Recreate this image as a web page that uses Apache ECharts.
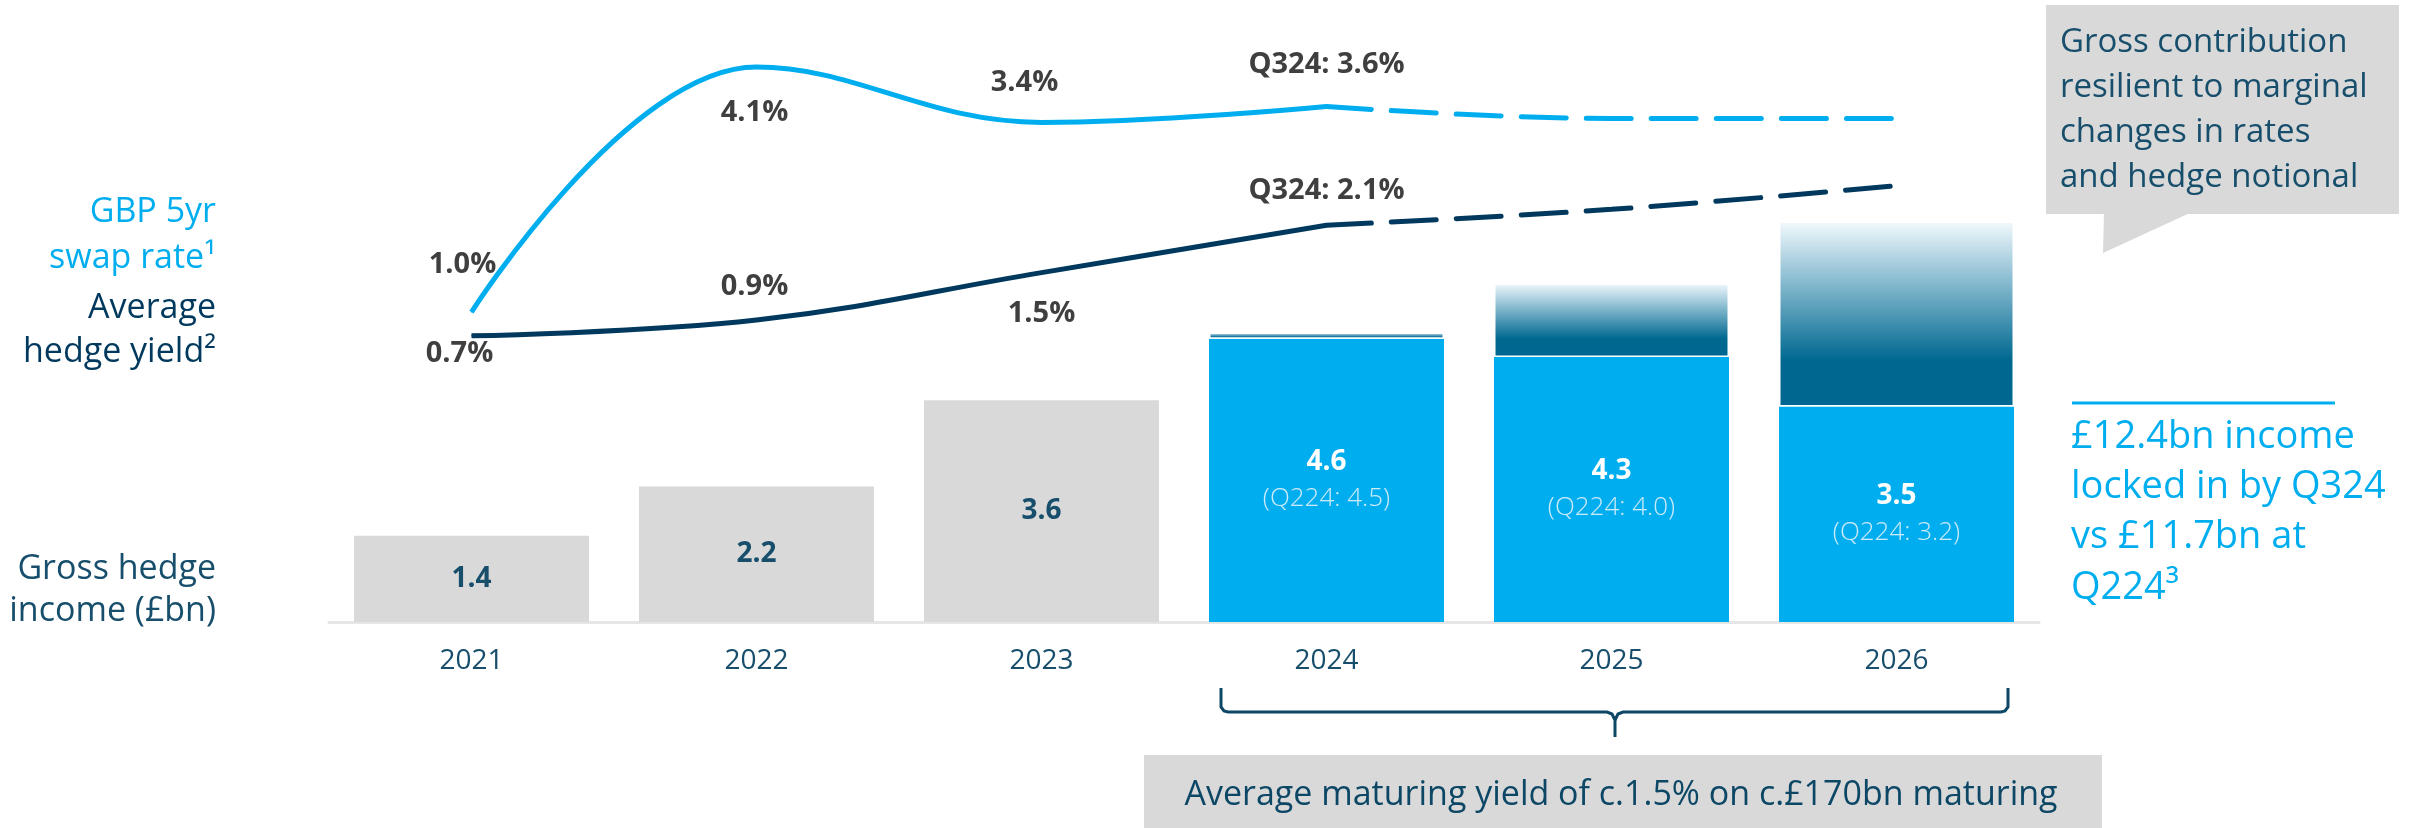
<!DOCTYPE html>
<html lang="en">
<head>
<meta charset="UTF-8">
<title>Gross hedge income</title>
<script src="https://cdn.jsdelivr.net/npm/echarts@6/dist/echarts.min.js"></script>
<style>
    html, body { margin: 0; padding: 0; background: #fff; }
    #chart { width: 2425px; height: 828px; }
</style>
</head>
<body>
<div id="chart"></div>
<script>
    // values
    const years = ['2021', '2022', '2023', '2024', '2025', '2026'];
    const incomeLocked = [1.4, 2.2, 3.6, 4.6, 4.3, 3.5];
    const incomeQ224 = [null, null, null, 4.5, 4.0, 3.2];
    const incomeUpside = [null, null, null, 0.1, 1.2, 3.0];
    const swapRate = [1.0, 4.1, 3.4, 3.6, null, null];
    const swapRateFwd = [null, null, null, 3.6, 3.45, 3.45];
    const hedgeYield = [0.7, 0.9, 1.5, 2.1, null, null];
    const hedgeYieldFwd = [null, null, null, 2.1, 2.3, 2.6];
    const swapLabels = ['1.0%', '4.1%', '3.4%', 'Q324: 3.6%'];
    const hedgeLabels = ['0.7%', '0.9%', '1.5%', 'Q324: 2.1%'];

    const FONT = '"Open Sans", "DejaVu Sans", sans-serif';
    const NAVY = '#00395d';
    const CYAN = '#00aeef';
    const TEAL = '#174e6c';
    const GREY = '#d9d9d9';

    // where each rate label sits relative to its point
    const swapOffsets = [[-9, -47], [-2, 46], [-17, -40], [0, -42]];
    const hedgeOffsets = [[-12, 18], [-2, -33], [0, 41], [0, -34]];

    function lineData(values, labels, offsets) {
        return values.map((v, i) => {
            if (v == null) return '-';
            if (!labels || labels[i] == null) return v;
            return {
                value: v,
                label: { show: true, position: 'inside', offset: offsets[i], formatter: labels[i] }
            };
        });
    }

    const rateLabel = {
        show: false,
        color: '#3f3f3f',
        fontFamily: FONT,
        fontWeight: 'bold',
        fontSize: 29
    };

    const chart = echarts.init(document.getElementById('chart'));

    function text(x, y, str, color, size, align, weight) {
        return {
            type: 'text',
            x: x, y: y,
            style: {
                text: str,
                fill: color,
                fontFamily: FONT,
                fontSize: size,
                fontWeight: weight || 'normal',
                textAlign: align || 'left',
                textVerticalAlign: 'middle'
            }
        };
    }

    function stroke(points, color) {
        return {
            type: 'polyline',
            shape: { points: points },
            style: { stroke: color, lineWidth: 3, fill: null }
        };
    }

    const option = {
        backgroundColor: '#fff',
        animation: false,
        grid: { left: 329, right: 386, top: 22, bottom: 206 },
        xAxis: {
            type: 'category',
            data: years,
            axisLine: { lineStyle: { color: '#e6e6e6', width: 3 } },
            axisTick: { show: false },
            axisLabel: { color: TEAL, fontFamily: FONT, fontSize: 28, margin: 25 }
        },
        yAxis: [
            { type: 'value', min: 0, max: 9.74, show: false },
            { type: 'value', min: -2.92, max: 4.67, show: false }
        ],
        series: [
            {
                name: 'locked',
                type: 'bar',
                stack: 'income',
                barWidth: 235,
                data: incomeLocked,
                itemStyle: {
                    color: p => (p.dataIndex < 3 ? GREY : CYAN)
                },
                label: {
                    show: true,
                    position: 'inside',
                    fontFamily: FONT,
                    formatter: p => {
                        const q = incomeQ224[p.dataIndex];
                        if (q == null) return '{g|' + p.value.toFixed(1) + '}';
                        return '{w|' + p.value.toFixed(1) + '}\n{q|(Q224: ' + q.toFixed(1) + ')}';
                    },
                    rich: {
                        g: { color: TEAL, fontFamily: FONT, fontWeight: 'bold', fontSize: 28 },
                        w: { color: '#fff', fontFamily: FONT, fontWeight: 'bold', fontSize: 28, lineHeight: 37 },
                        q: { color: '#cdeaf8', fontFamily: FONT, fontWeight: 300, fontSize: 26, lineHeight: 37 }
                    }
                }
            },
            {
                name: 'upside',
                type: 'bar',
                stack: 'income',
                barWidth: 235,
                data: incomeUpside,
                itemStyle: {
                    borderColor: '#ffffff',
                    borderWidth: 1.5,
                    color: {
                        type: 'linear', x: 0, y: 0, x2: 0, y2: 1,
                        colorStops: [
                            { offset: 0, color: '#f2f9fd' },
                            { offset: 0.35, color: '#7fb6cc' },
                            { offset: 0.75, color: '#006890' },
                            { offset: 1, color: '#006890' }
                        ]
                    }
                }
            },
            {
                name: 'GBP 5yr swap rate',
                type: 'line',
                yAxisIndex: 1,
                smooth: 0.4,
                symbol: 'circle',
                symbolSize: 1,
                itemStyle: { color: CYAN },
                lineStyle: { color: CYAN, width: 5 },
                label: rateLabel,
                z: 5,
                data: lineData(swapRate, swapLabels, swapOffsets)
            },
            {
                name: 'GBP 5yr swap rate fwd',
                type: 'line',
                yAxisIndex: 1,
                smooth: 0.4,
                symbol: 'none',
                lineStyle: { color: CYAN, width: 5, type: [45, 20], cap: 'round' },
                z: 5,
                data: lineData(swapRateFwd)
            },
            {
                name: 'Average hedge yield',
                type: 'line',
                yAxisIndex: 1,
                smooth: 0.4,
                symbol: 'circle',
                symbolSize: 1,
                itemStyle: { color: NAVY },
                lineStyle: { color: NAVY, width: 5 },
                label: rateLabel,
                z: 5,
                data: lineData(hedgeYield, hedgeLabels, hedgeOffsets)
            },
            {
                name: 'Average hedge yield fwd',
                type: 'line',
                yAxisIndex: 1,
                smooth: 0.4,
                symbol: 'none',
                lineStyle: { color: NAVY, width: 5, type: [45, 20], cap: 'round' },
                z: 5,
                data: lineData(hedgeYieldFwd)
            }
        ],
        graphic: [
            // left side row titles
            text(216, 212, 'GBP 5yr', CYAN, 34, 'right'),
            text(216, 258, 'swap rate\u00b9', CYAN, 34, 'right'),
            text(216, 308, 'Average', NAVY, 34, 'right'),
            text(216, 352, 'hedge yield\u00b2', NAVY, 34, 'right'),
            text(216, 569, 'Gross hedge', TEAL, 34, 'right'),
            text(216, 611, 'income (\u00a3bn)', TEAL, 34, 'right'),

            // callout top right
            { type: 'rect', shape: { x: 2046, y: 5, width: 353, height: 209 }, style: { fill: GREY } },
            { type: 'polygon', shape: { points: [[2104, 212], [2192, 212], [2103, 253]] }, style: { fill: GREY } },
            text(2060, 43, 'Gross contribution', TEAL, 33),
            text(2060, 88, 'resilient to marginal', TEAL, 33),
            text(2060, 133, 'changes in rates', TEAL, 33),
            text(2060, 178, 'and hedge notional', TEAL, 33),

            // locked-in note
            { type: 'line', shape: { x1: 2072, y1: 403, x2: 2335, y2: 403 }, style: { stroke: CYAN, lineWidth: 3 } },
            text(2071, 437, '\u00a312.4bn income', CYAN, 38),
            text(2071, 487, 'locked in by Q324', CYAN, 38),
            text(2071, 537, 'vs \u00a311.7bn at', CYAN, 38),
            text(2071, 588, 'Q224\u00b3', CYAN, 38),

            // brace under 2024-2026
            stroke([[1221, 688], [1221, 707], [1224, 711], [1228, 712], [1607, 712], [1612, 714], [1615, 720], [1615, 737]], '#0d4766'),
            stroke([[1615, 720], [1618, 714], [1623, 712], [2001, 712], [2005, 711], [2008, 707], [2008, 688]], '#0d4766'),
            { type: 'rect', shape: { x: 1144, y: 755, width: 958, height: 80 }, style: { fill: GREY } },
            text(1621, 795, 'Average maturing yield of c.1.5% on c.\u00a3170bn maturing', '#0d4766', 34, 'center')
        ]
    };

    chart.setOption(option);
</script>
</body>
</html>
